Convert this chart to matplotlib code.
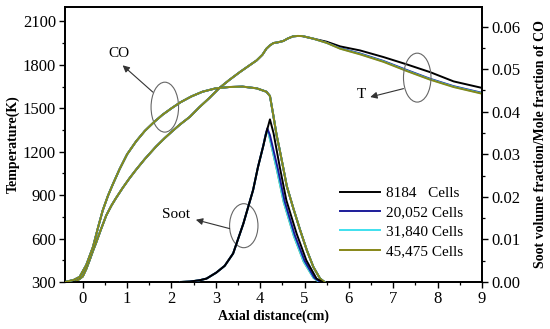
import numpy as np
import matplotlib
matplotlib.use("Agg")
import matplotlib.pyplot as plt
from matplotlib.patches import Ellipse
from matplotlib.ticker import MultipleLocator, FormatStrFormatter

plt.rcParams['font.family'] = ['Liberation Serif', 'DejaVu Serif']

# mesh labels and colours
labels = ["8184   Cells", "20,052 Cells", "31,840 Cells", "45,475 Cells"]
colors = ["#000000", "#1c1c9a", "#3fe0ee", "#878718"]

# temperature (K), left axis: rise part shared by all meshes
x_T_rise = [-0.4, -0.25, -0.1, 0.0, 0.08, 0.16, 0.23, 0.3, 0.4, 0.53, 0.65, 0.75, 0.9,
            1.05, 1.2, 1.4, 1.65, 1.85, 2.03, 2.2, 2.41, 2.63, 2.85, 3.09, 3.3, 3.54,
            3.75, 3.92, 4.05, 4.14, 4.22, 4.3, 4.4, 4.52, 4.62, 4.74, 4.85, 4.95, 5.2]
T_rise = [300, 302, 315, 338, 390, 455, 515, 570, 655, 760, 830, 880, 950,
          1015, 1075, 1150, 1235, 1295, 1345, 1390, 1440, 1508, 1570, 1643, 1695, 1750,
          1795, 1831, 1870, 1912, 1935, 1951, 1956, 1965, 1982, 1997, 2000, 1999, 1981]
# tail part, per mesh
x_T_tail = [5.5, 5.8, 6.25, 6.78, 7.31, 7.83, 8.36, 9.0]
T_tail = [
    [1960, 1928, 1900, 1854, 1803, 1750, 1686, 1641],
    [1953, 1916, 1879, 1827, 1764, 1704, 1653, 1607],
    [1952, 1913, 1875, 1823, 1759, 1700, 1649, 1603],
    [1952, 1912, 1873, 1821, 1757, 1698, 1647, 1601],
]

# CO mole fraction, right axis (same for all meshes)
x_CO = [-0.4, -0.2, -0.07, 0.08, 0.23, 0.35, 0.45, 0.57, 0.68, 0.83, 1.0, 1.2, 1.4,
        1.6, 1.8, 2.0, 2.2, 2.45, 2.7, 3.0, 3.3, 3.6, 3.92, 4.14, 4.22, 4.29, 4.37,
        4.44, 4.52, 4.6, 4.75, 4.9, 5.05, 5.2, 5.35, 5.45]
CO = [0.0, 0.0005, 0.0012, 0.0040, 0.0082, 0.0130, 0.0168, 0.0203, 0.0230, 0.0265,
      0.0300, 0.0330, 0.0355, 0.0375, 0.0393, 0.0408, 0.0422, 0.0436, 0.0447, 0.0455,
      0.0458, 0.0459, 0.0455, 0.0447, 0.0437, 0.0395, 0.0345, 0.0310, 0.0268, 0.0225,
      0.0172, 0.0122, 0.0075, 0.0035, 0.0008, 0.0]

# soot volume fraction, right axis
x_soot_up = [2.2, 2.41, 2.63, 2.79, 3.01, 3.2, 3.39, 3.62, 3.84, 3.95, 4.07]
soot_up = [0.0, 0.0001, 0.0004, 0.0008, 0.0022, 0.0038, 0.0067, 0.0137, 0.0216, 0.0270, 0.0320]
x_soot_down = [
    [4.15, 4.22, 4.3, 4.44, 4.59, 4.82, 5.04, 5.27, 5.4],
    [4.12, 4.16, 4.22, 4.4, 4.55, 4.78, 5.0, 5.22, 5.35],
    [4.12, 4.16, 4.2, 4.38, 4.53, 4.76, 4.98, 5.2, 5.33],
    [4.12, 4.16, 4.2, 4.38, 4.53, 4.76, 4.98, 5.2, 5.33],
]
soot_down = [
    [0.0355, 0.0382, 0.0350, 0.0271, 0.0192, 0.0114, 0.0051, 0.0008, 0.0],
    [0.0345, 0.0361, 0.0345, 0.0265, 0.0190, 0.0110, 0.0050, 0.0010, 0.0],
    [0.0345, 0.0358, 0.0345, 0.0262, 0.0188, 0.0108, 0.0048, 0.0010, 0.0],
    [0.0345, 0.0358, 0.0345, 0.0262, 0.0188, 0.0108, 0.0048, 0.0010, 0.0],
]

fig = plt.figure(figsize=(5.5, 3.29), dpi=100)
ax = fig.add_axes([65/550, 47/329, 417/550, 275/329])
ax2 = ax.twinx()

lw = 1.4
handles = []
for i in range(4):
    xs = x_T_rise + x_T_tail
    ys = T_rise + T_tail[i]
    h, = ax.plot(xs, ys, color=colors[i], lw=lw, label=labels[i], zorder=2 + i)
    handles.append(h)
    ax2.plot(x_CO, CO, color=colors[i], lw=lw, zorder=2 + i)

# soot: black drawn on top
for i in [3, 2, 1, 0]:
    ax2.plot(x_soot_up + x_soot_down[i], soot_up + soot_down[i],
             color=colors[i], lw=lw, zorder=10 - i)

ax.set_xlim(-0.4, 9)
ax.set_ylim(300, 2200)
ax2.set_ylim(0, 0.0646)

ax.xaxis.set_major_locator(MultipleLocator(1))
ax.xaxis.set_minor_locator(MultipleLocator(0.5))
ax.set_yticks([300, 600, 900, 1200, 1500, 1800, 2100])
ax.yaxis.set_minor_locator(MultipleLocator(150))
ax2.yaxis.set_major_locator(MultipleLocator(0.01))
ax2.yaxis.set_minor_locator(MultipleLocator(0.005))
ax2.yaxis.set_major_formatter(FormatStrFormatter('%.2f'))

for a in (ax, ax2):
    a.tick_params(which='major', direction='out', length=4, width=1.0, labelsize=12, pad=2.5)
    a.tick_params(which='minor', direction='out', length=2.5, width=0.9)
    for s in a.spines.values():
        s.set_linewidth(1.3)

ax.set_xlabel("Axial distance(cm)", fontsize=10, fontweight='bold', labelpad=2)
ax.set_ylabel("Temperature(K)", fontsize=10, fontweight='bold', labelpad=2)
ax2.set_ylabel("Soot volume fraction/Mole fraction of CO", fontsize=10,
               fontweight='bold', labelpad=10)

# annotations
ell_kw = dict(fill=False, edgecolor='#666666', lw=0.8, zorder=20)
arr_kw = dict(arrowstyle='-|>', color='#333333', lw=0.8, mutation_scale=10,
              shrinkA=0, shrinkB=0)
for cx, cy, w, h in [(1.85, 1508, 0.62, 345), (3.63, 689, 0.64, 304), (7.54, 1712, 0.62, 338)]:
    ax.add_patch(Ellipse((cx, cy), w, h, **ell_kw))
ax.annotate("", xy=(0.90, 1797), xytext=(1.58, 1612), arrowprops=arr_kw, zorder=20)
ax.annotate("", xy=(2.55, 730), xytext=(3.31, 669), arrowprops=arr_kw, zorder=20)
ax.annotate("", xy=(6.48, 1578), xytext=(7.23, 1636), arrowprops=arr_kw, zorder=20)
ax.text(0.81, 1877, "CO", fontsize=11, ha='center', va='center')
ax.text(2.11, 767, "Soot", fontsize=11, ha='center', va='center')
ax.text(6.27, 1594, "T", fontsize=11, ha='center', va='center')

ax2.legend(handles=handles, loc='upper left', bbox_to_anchor=(0.659, 0.347),
           frameon=False, fontsize=11, handlelength=2.6, handletextpad=0.4,
           labelspacing=0.36, borderpad=0, borderaxespad=0)

fig.savefig("out.png", dpi=100)
